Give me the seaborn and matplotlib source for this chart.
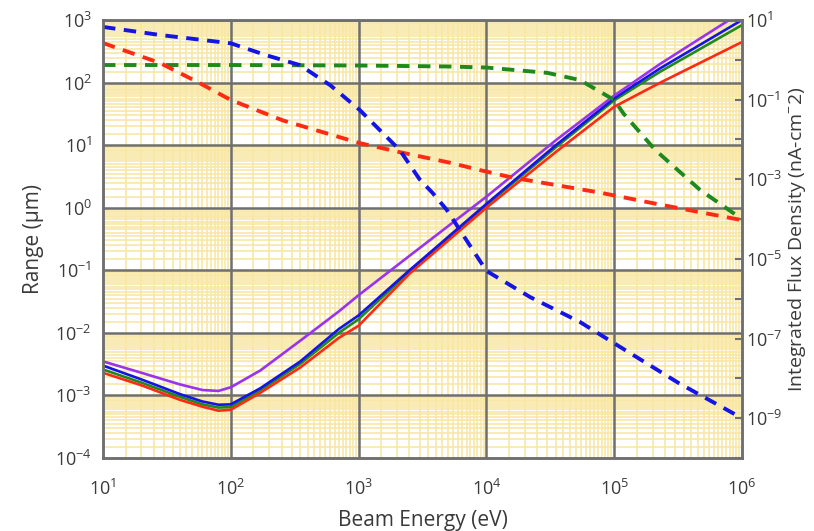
import matplotlib

matplotlib.use("Agg")
import matplotlib.pyplot as plt
import matplotlib.ticker as mticker
import numpy as np
import seaborn as sns

# Range curves (left axis, um), all read at the same beam energies (eV)
RANGE_E = [10, 20, 40, 60, 80, 100, 170, 350, 700, 1e3, 2.5e3, 1e4, 3.5e4, 1e5, 2.3e5, 1e6]
RANGE_PURPLE = [3.5e-3, 2.3e-3, 1.5e-3, 1.22e-3, 1.18e-3, 1.35e-3, 2.5e-3, 7.5e-3, 2.2e-2,
                4.0e-2, 0.17, 1.5, 12, 62, 200, 1350]
RANGE_BLUE = [3.0e-3, 1.8e-3, 1.05e-3, 8.0e-4, 7.1e-4, 7.2e-4, 1.3e-3, 3.5e-3, 1.15e-2,
              1.9e-2, 0.1, 1.15, 10, 56, 170, 1000]
RANGE_GREEN = [2.6e-3, 1.6e-3, 9.5e-4, 7.2e-4, 6.4e-4, 6.5e-4, 1.2e-3, 3.2e-3, 1.0e-2,
               1.65e-2, 9.5e-2, 1.1, 9.3, 52, 150, 830]
RANGE_RED = [2.3e-3, 1.45e-3, 8.5e-4, 6.6e-4, 5.7e-4, 5.9e-4, 1.1e-3, 2.8e-3, 8.3e-3,
             1.3e-2, 8.8e-2, 1.0, 7.8, 41, 100, 445]

# Integrated flux density curves (right axis, nA-cm^-2)
FLUX_BLUE_E = [10, 28, 100, 190, 346, 600, 1020, 2100, 3000, 3800, 4900, 1e4, 2.2e4,
               5.4e4, 1e5, 3.2e5, 1e6]
FLUX_BLUE = [6.7, 4.2, 2.6, 1.3, 0.74, 0.23, 0.055, 5.4e-3, 1.0e-3, 4.5e-4, 1.7e-4,
             5.0e-6, 1.1e-6, 2.6e-7, 7.6e-8, 7.6e-9, 1.0e-9]
FLUX_RED_E = [10, 28, 57, 100, 256, 1020, 2100, 5200, 8900, 1.6e4, 7.8e4, 2.3e5, 1e6]
FLUX_RED = [2.64, 0.83, 0.26, 0.098, 0.03, 8.1e-3, 4.8e-3, 2.6e-3, 1.7e-3, 1.1e-3,
            4.6e-4, 2.3e-4, 9.4e-5]
FLUX_GREEN_E = [10, 100, 1000, 5000, 1e4, 3e4, 5.4e4, 1e5, 1.18e5, 2.1e5, 4.7e5, 1e6]
FLUX_GREEN = [0.74, 0.74, 0.72, 0.68, 0.64, 0.47, 0.31, 0.098, 0.045, 5.4e-3, 5.4e-4, 1.0e-4]

XTICKS = [1e1, 1e2, 1e3, 1e4, 1e5, 1e6]
YTICKS = [10.0 ** k for k in range(-4, 4)]
RIGHT_MAJOR = [10.0 ** k for k in range(1, -10, -2)]
RIGHT_MINOR = [10.0 ** k for k in range(0, -11, -2)]

sns.set_style("white")
plt.rcParams["font.family"] = ["Open Sans", "DejaVu Sans"]
plt.rcParams["mathtext.fontset"] = "custom"
plt.rcParams["mathtext.rm"] = "Open Sans"

TXT = "#3a3a3a"
GRID_MAJOR = "#6f6f6f"
GRID_MINOR = "#f8e6a0"

fig = plt.figure(figsize=(8.14, 5.31), dpi=100)
ax = fig.add_axes([103 / 814, 73 / 531, 639 / 814, 438 / 531])
ax.set_xscale("log")
ax.set_yscale("log")
ax.set_xlim(10, 1e6)
ax.set_ylim(1e-4, 1e3)

subs = np.arange(1.5, 10, 0.5)
ax.xaxis.set_major_locator(mticker.FixedLocator(XTICKS))
ax.yaxis.set_major_locator(mticker.FixedLocator(YTICKS))
ax.xaxis.set_major_formatter(mticker.LogFormatterSciNotation())
ax.yaxis.set_major_formatter(mticker.LogFormatterSciNotation())
for axis in (ax.xaxis, ax.yaxis):
    axis.set_minor_locator(mticker.LogLocator(base=10, subs=subs, numticks=200))
    axis.set_minor_formatter(mticker.NullFormatter())
ax.grid(which="minor", color=GRID_MINOR, lw=1.1)
ax.set_axisbelow(True)
# decade lines sit above the yellow minor grid
for v in XTICKS[1:-1]:
    ax.axvline(v, color=GRID_MAJOR, lw=1.8, zorder=1)
for v in YTICKS[1:]:
    ax.axhline(v, color=GRID_MAJOR, lw=1.8, zorder=1)
ax.tick_params(which="both", length=0, labelsize=13, colors=TXT)
ax.tick_params(axis="x", pad=15)
ax.tick_params(axis="y", pad=8)

for y, c in [(RANGE_GREEN, "#1e8a1e"), (RANGE_RED, "#ff2a14"),
             (RANGE_BLUE, "#1414e6"), (RANGE_PURPLE, "#9933ee")]:
    sns.lineplot(x=RANGE_E, y=y, ax=ax, color=c, lw=1.9, legend=False)

ax2 = ax.twinx()
ax2.set_yscale("log")
ax2.set_ylim(1e-10, 1e1)
ax2.yaxis.set_major_locator(mticker.FixedLocator(RIGHT_MAJOR))
ax2.yaxis.set_major_formatter(mticker.LogFormatterSciNotation())
ax2.yaxis.set_minor_locator(mticker.FixedLocator(RIGHT_MINOR))
ax2.yaxis.set_minor_formatter(mticker.NullFormatter())
ax2.tick_params(which="both", direction="in", length=5, width=1.5, colors=GRID_MAJOR,
                labelcolor=TXT, labelsize=13, pad=3)
ax2.grid(False)

dash = (0, (3.2, 2.2))
for xs, ys, c in [(FLUX_GREEN_E, FLUX_GREEN, "#1e8a1e"), (FLUX_RED_E, FLUX_RED, "#ff2a14"),
                  (FLUX_BLUE_E, FLUX_BLUE, "#1414e6")]:
    sns.lineplot(x=xs, y=ys, ax=ax2, color=c, lw=2.8, linestyle=dash, legend=False)

for a in (ax, ax2):
    for sp in a.spines.values():
        sp.set_color(GRID_MAJOR)
        sp.set_linewidth(1.8)

ax.set_xlabel("Beam Energy (eV)", fontsize=15, color=TXT, labelpad=8)
ax.set_ylabel("Range (µm)", fontsize=15, color=TXT, labelpad=8)
ax2.set_ylabel(r"Integrated Flux Density (nA-cm$^{\mathregular{-}}$2)", fontsize=14,
               color=TXT, labelpad=2)

fig.savefig("out.png", dpi=100)
